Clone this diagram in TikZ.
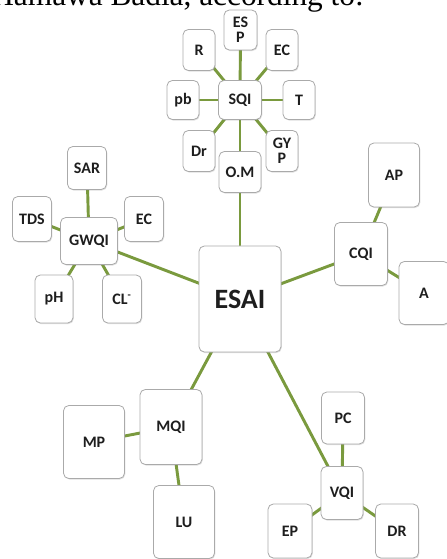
\documentclass[tikz,border=0pt]{standalone}
\usepackage{fontspec}
\setmainfont{Carlito}
\newfontfamily\serifface{Liberation Serif}
\usetikzlibrary{backgrounds,shadows}

\definecolor{linkgreen}{RGB}{122,154,62}
\definecolor{boxgray}{RGB}{170,170,170}
\definecolor{labelgray}{RGB}{30,30,30}

\tikzset{
    box/.style 2 args={draw=boxgray, line width=0.6pt, fill=white, rounded corners=4pt,
        minimum width=#1*0.75pt, minimum height=#2*0.75pt, inner sep=0pt, align=center,
        text=labelgray, font=\bfseries\fontsize{12}{11}\selectfont,
        drop shadow={shadow xshift=0.6pt, shadow yshift=-0.8pt, opacity=0.25}},
    link/.style={draw=linkgreen, line width=2.2pt}
}

\begin{document}
\begin{tikzpicture}[x=0.75pt,y=-0.75pt]
    \useasboundingbox (0,0) rectangle (446,559);

    % cut-off line of the running text above the figure
    \node[anchor=base east, inner sep=0pt, font=\serifface\fontsize{23.5}{26}\selectfont] (head) at (364,6) {Hamawa Badia, according to:};

    % soil quality
    \node[box={33}{40}] (ESP) at (240.5,30) {ES\\P};
    \node[box={32}{41}] (R)   at (199,50)  {R};
    \node[box={32}{41}] (ECs) at (282,50)  {EC};
    \node[box={32}{39}] (pb)  at (183,100) {pb};
    \node[box={43}{39}] (SQI) at (240,100) {SQI};
    \node[box={32}{39}] (T)   at (299,100) {T};
    \node[box={32}{41}] (Dr)  at (199,151) {Dr};
    \node[box={32}{41}] (GYP) at (282,151) {GY\\P};
    \node[box={42}{41}] (OM)  at (240,172) {O.M};

    % groundwater quality
    \node[box={39}{43}] (SAR)  at (87,168)  {SAR};
    \node[box={39}{45}] (TDS)  at (32,219)  {TDS};
    \node[box={57}{47}] (GWQI) at (89,241)  {GWQI};
    \node[box={39}{45}] (ECg)  at (144,219) {EC};
    \node[box={38}{48}] (pH)   at (54,299)  {pH};
    \node[box={39}{48}] (CL)   at (122,299) {CL\textsuperscript{-}};

    % index
    \node[box={82}{106}, font=\bfseries\fontsize{21}{24}\selectfont] (ESAI) at (240,299) {ESAI};

    % climate quality
    \node[box={51}{64}] (AP)  at (394,175) {AP};
    \node[box={53}{63}] (CQI) at (361,254) {CQI};
    \node[box={50}{63}] (A)   at (424,293) {A};

    % management quality
    \node[box={62}{75}] (MQI) at (171,427) {MQI};
    \node[box={61}{73}] (MP)  at (94,442)  {MP};
    \node[box={61}{73}] (LU)  at (184,522) {LU};

    % vegetation quality
    \node[box={43}{52}] (PC)  at (343,418) {PC};
    \node[box={42}{53}] (VQI) at (342,493) {VQI};
    \node[box={44}{54}] (EP)  at (290,531) {EP};
    \node[box={43}{54}] (DR)  at (397,531) {DR};

    \begin{scope}[on background layer]
        \foreach \n in {ESP,R,ECs,pb,T,Dr,GYP,OM}
            \draw[link] (SQI.center) -- (\n.center);
        \foreach \n in {SAR,TDS,ECg,pH,CL}
            \draw[link] (GWQI.center) -- (\n.center);
        \foreach \n in {OM,GWQI,CQI,MQI,VQI}
            \draw[link] (ESAI.center) -- (\n.center);
        \draw[link] (CQI.center) -- (AP.center);
        \draw[link] (CQI.center) -- (A.center);
        \draw[link] (MQI.center) -- (MP.center);
        \draw[link] (MQI.center) -- (LU.center);
        \foreach \n in {PC,EP,DR}
            \draw[link] (VQI.center) -- (\n.center);
    \end{scope}
\end{tikzpicture}
\end{document}
